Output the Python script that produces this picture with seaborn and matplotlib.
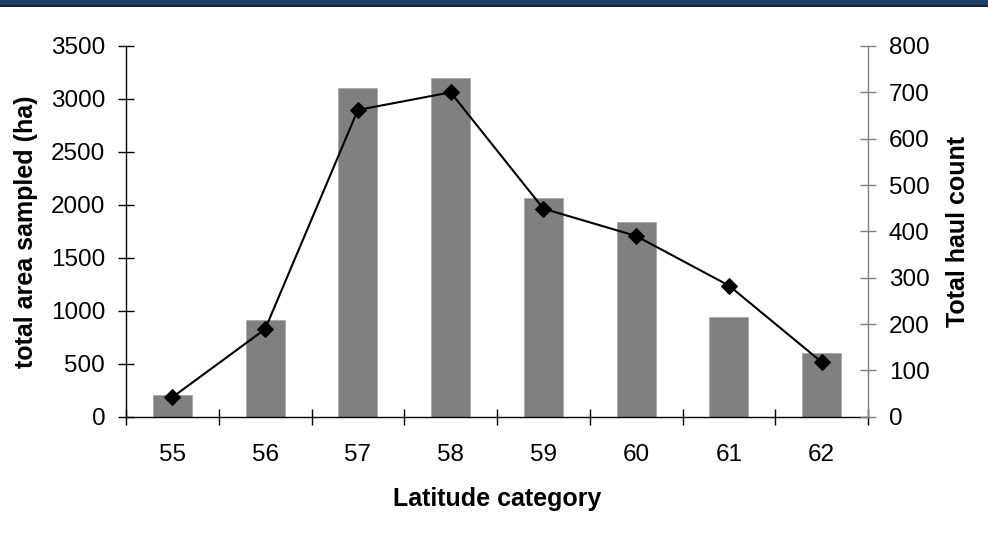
import numpy as np
import pandas as pd
import matplotlib
matplotlib.use("Agg")
import matplotlib.pyplot as plt
from matplotlib.patches import Rectangle
import seaborn as sns

# Latitude categories and the two measured series
latitudes = ["55", "56", "57", "58", "59", "60", "61", "62"]
area_sampled_ha = [208, 913, 3106, 3201, 2068, 1842, 937, 601]
haul_count = [42, 189, 662, 700, 449, 390, 283, 118]

left_ticks = [0, 500, 1000, 1500, 2000, 2500, 3000, 3500]
right_ticks = [0, 100, 200, 300, 400, 500, 600, 700, 800]

sns.set_theme(style="white")
plt.rcParams["font.family"] = ["Liberation Sans", "DejaVu Sans"]

df = pd.DataFrame({"lat": latitudes, "area": area_sampled_ha,
                   "hauls": haul_count, "pos": np.arange(len(latitudes))})

W, H = 988, 542
fig = plt.figure(figsize=(W / 100, H / 100), dpi=100)
ax = fig.add_axes([126 / W, 1 - 416.7 / H, (868 - 126) / W, (416.7 - 46) / H])

sns.barplot(data=df, x="pos", y="area", order=list(range(len(latitudes))),
            color="#808080", saturation=1, width=0.42, edgecolor="#a8a8a8",
            linewidth=0.6, ax=ax, native_scale=True)
ax.set_xlim(-0.5, len(latitudes) - 0.5)
ax.set_ylim(0, 3500)

ax2 = ax.twinx()
sns.lineplot(data=df, x="pos", y="hauls", color="black", linewidth=1.5,
             marker="D", markersize=8, markeredgecolor="black", ax=ax2)
ax2.set_ylim(0, 800)
ax2.set_xlim(-0.5, len(latitudes) - 0.5)

TICK_FS = 17.5
LABEL_FS = 18

# Category boundary ticks (major) and centred labels (minor)
ax.set_xticks(np.arange(-0.5, len(latitudes), 1))
ax.set_xticklabels([])
ax.set_xticks(np.arange(len(latitudes)), minor=True)
ax.set_xticklabels(latitudes, minor=True)
ax.tick_params(axis="x", which="major", direction="inout", length=12,
               width=1, color="black", bottom=True)
ax.tick_params(axis="x", which="minor", length=0, pad=20, labelsize=TICK_FS,
               labelcolor="black", bottom=True)

ax.set_yticks(left_ticks)
ax.tick_params(axis="y", direction="inout", length=12, width=1,
               color="black", labelsize=TICK_FS, pad=9, left=True,
               labelcolor="black")
ax2.set_yticks(right_ticks)
ax2.tick_params(axis="y", direction="inout", length=12, width=1,
                color="#808080", labelsize=TICK_FS, pad=9, right=True,
                labelcolor="black")

for a in (ax, ax2):
    a.spines["top"].set_visible(False)
    a.grid(False)
ax.spines["right"].set_visible(False)
ax.spines["left"].set_color("black")
ax.spines["bottom"].set_color("black")
ax2.spines["left"].set_visible(False)
ax2.spines["bottom"].set_visible(False)
ax2.spines["right"].set_color("#808080")
for s in ("left", "bottom"):
    ax.spines[s].set_linewidth(1.0)
ax2.spines["right"].set_linewidth(1.0)

ax.set_xlabel("Latitude category", fontsize=LABEL_FS, fontweight="bold",
              labelpad=15, color="black")
ax.set_ylabel("total area sampled (ha)", fontsize=LABEL_FS, fontweight="bold",
              labelpad=9.5, color="black")
ax2.set_ylabel("Total haul count", fontsize=LABEL_FS, fontweight="bold",
               labelpad=11.5, color="black")

ax.set_zorder(1)
ax2.set_zorder(2)
ax2.patch.set_visible(False)

# Title band across the top edge
fig.add_artist(Rectangle((0, 1 - 5 / H), 1, 5 / H, transform=fig.transFigure,
                         facecolor="#1e3f6b", edgecolor="none"))
fig.add_artist(Rectangle((0, 1 - 6.5 / H), 1, 1.5 / H, transform=fig.transFigure,
                         facecolor="#222222", edgecolor="none"))

fig.savefig("out.png", dpi=100)
